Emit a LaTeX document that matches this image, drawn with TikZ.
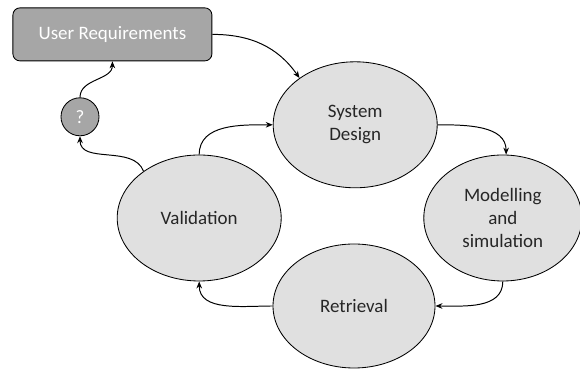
\documentclass[tikz,border=0pt]{standalone}
\usepackage{fontspec}
\setmainfont{Carlito}
\usepackage{tikz}
\usetikzlibrary{shapes.geometric, arrows.meta}
\definecolor{stagefill}{HTML}{E0E0E0}
\definecolor{reqfill}{HTML}{A6A6A6}

\begin{document}
\begin{tikzpicture}[
  stage/.style={draw, ellipse, fill=stagefill, line width=0.6pt,
              minimum width=4.1cm, minimum height=3.15cm, inner sep=0pt,
              align=center, font=\fontsize{13.5}{16.5}\selectfont,
              text=black!85},
  reqbox/.style={draw, rounded corners=5pt, fill=reqfill, line width=0.6pt,
              minimum width=4.975cm, minimum height=1.325cm,
              font=\fontsize{13.5}{16.5}\selectfont, text=white},
  askdot/.style={draw, circle, fill=reqfill, line width=0.6pt,
              minimum size=0.95cm, inner sep=0pt,
              font=\fontsize{13.5}{16.5}\selectfont, text=white},
  flow/.style={-{Stealth[length=5pt, width=4pt]}, line width=0.7pt},
  >=Stealth
]
  \useasboundingbox[fill=white] (0,0) rectangle (14.5,9.25);

  % Requirements and feedback
  \node[reqbox] (ur) at (2.81,8.39) {User Requirements};
  \node[askdot] (ask) at (2.0,6.33) {?};

  % Design cycle
  \node[stage] (sd) at (8.88,6.13) {System\\Design};
  \node[stage, minimum width=3.95cm] (ms) at (12.57,3.80)
    {Modelling\\and\\simulation};
  \node[stage, minimum width=4.05cm, minimum height=3.1cm] (rt) at (8.85,1.60)
    {Retrieval};
  \node[stage] (va) at (4.98,3.80) {Validation};

  % Connectors
  \draw[flow] (ur.east) to[out=0, in=125] (sd.140);
  \draw[flow] (sd.east) to[out=0, in=90] (ms.87);
  \draw[flow] (ms.south) to[out=-90, in=0] (rt.east);
  \draw[flow] (rt.west) to[out=180, in=-90] (va.south);
  \draw[flow] (va.north) to[out=90, in=180] (sd.west);
  \draw[flow] (va.140) to[out=110, in=-90] (ask.south);
  \draw[flow] (ask.north) to[out=90, in=-90] (ur.south);
\end{tikzpicture}
\end{document}
